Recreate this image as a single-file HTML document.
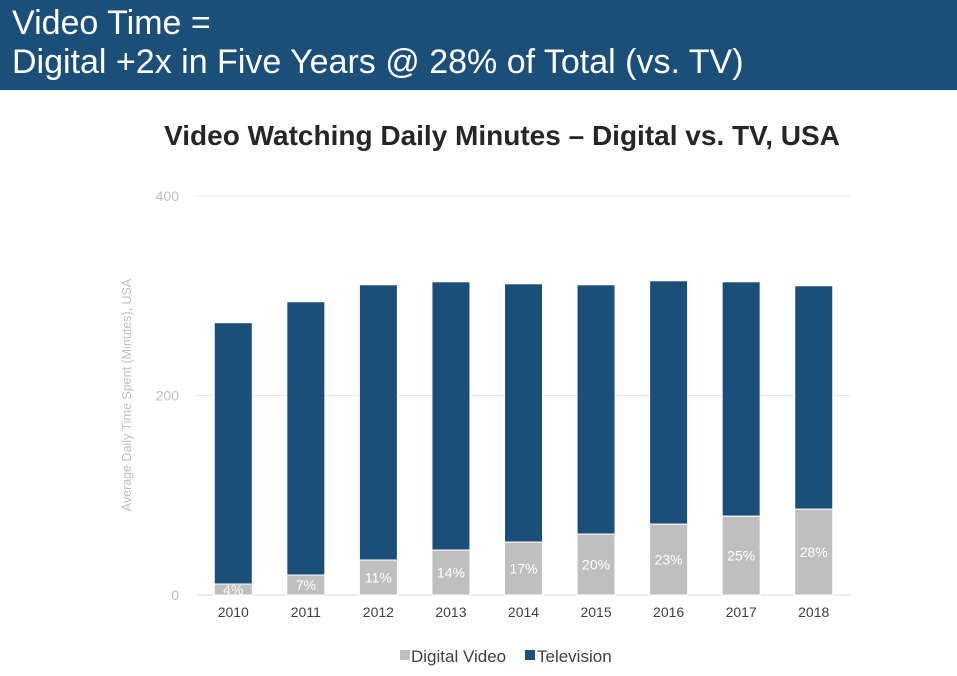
<!DOCTYPE html>
<html><head><meta charset="utf-8"><style>
body{margin:0;width:957px;height:676px;background:#fff;font-family:"Liberation Sans",sans-serif;overflow:hidden;position:relative}
#hdr{position:absolute;left:0;top:0;width:957px;height:90px;background:#1c4f78;color:#fff;font-size:34px;line-height:39px;padding:4px 0 0 12px;box-sizing:border-box}
#ttl{position:absolute;left:0;width:1004px;top:120px;text-align:center;font-size:28px;font-weight:bold;color:#262626}
svg{position:absolute;left:0;top:0}
</style></head><body>
<div id="hdr">Video Time =<br>Digital +2x in Five Years @ 28% of Total (vs. TV)</div>
<div id="ttl">Video Watching Daily Minutes – Digital vs. TV, USA</div>
<svg id="c" width="957" height="676"></svg>
<script>
const years=["2010","2011","2012","2013","2014","2015","2016","2017","2018"];
const digital=[11,20,35,45,53,61,71,79,86];
const totals=[273,294,311,314,312,311,315,314,310];
const pctLabels=["4%","7%","11%","14%","17%","20%","23%","25%","28%"];
const yTicks=[0,200,400];
const NS="http://www.w3.org/2000/svg",svg=document.getElementById('c');
const x0=197,x1=850,y0=595,yTop=196;
const y=v=>y0-(v/400)*(y0-yTop);
const step=(x1-x0)/years.length;
const xc=i=>x0+step*(i+0.5);
function mk(t,a,p){const e=document.createElementNS(NS,t);for(const k in a)e.setAttribute(k,a[k]);(p||svg).appendChild(e);return e;}
yTicks.forEach(t=>{
 const g=mk('line',{x1:x0,x2:x1,y1:y(t),y2:y(t),stroke:t==0?'#d9d9d9':'#e8e8e8','stroke-width':1});
 
 
 const l=mk('text',{x:179,y:y(t)+5,'text-anchor':'end','font-size':14,fill:'#bfbfbf'});l.textContent=t;
 
 
});
const yl=mk('text',{x:0,y:0,transform:'translate(131,395) rotate(-90)','text-anchor':'middle','font-size':12.5,fill:'#bfbfbf'});
yl.textContent='Average Daily Time Spent (Minutes), USA';


const bw=38;
years.forEach((yr,i)=>{
 const cx=xc(i);
 const tv=mk('rect',{x:cx-bw/2,y:y(totals[i]),width:bw,height:y(digital[i])-y(totals[i]),fill:'#1c4f78',stroke:'#fff','stroke-width':1});
 
 
 const dg=mk('rect',{x:cx-bw/2,y:y(digital[i]),width:bw,height:y0-y(digital[i]),fill:'#bfbfbf',stroke:'#fff','stroke-width':1});
 
 
 const pl=mk('text',{x:cx,y:(y(digital[i])+y0)/2+5,'text-anchor':'middle','font-size':14,fill:'#fff'});pl.textContent=pctLabels[i];
 
 
 const xl=mk('text',{x:cx,y:617,'text-anchor':'middle','font-size':14,fill:'#404040'});xl.textContent=yr;
 
 
});
const lg=mk('g',{});


mk('rect',{x:400,y:650,width:10,height:10,fill:'#bfbfbf'},lg);
const t1=mk('text',{x:411,y:662,'font-size':17,fill:'#404040'},lg);t1.textContent='Digital Video';


mk('rect',{x:525,y:650,width:10,height:10,fill:'#1c4f78'},lg);
const t2=mk('text',{x:537,y:662,'font-size':17,fill:'#404040'},lg);t2.textContent='Television';


</script>
</body></html>
